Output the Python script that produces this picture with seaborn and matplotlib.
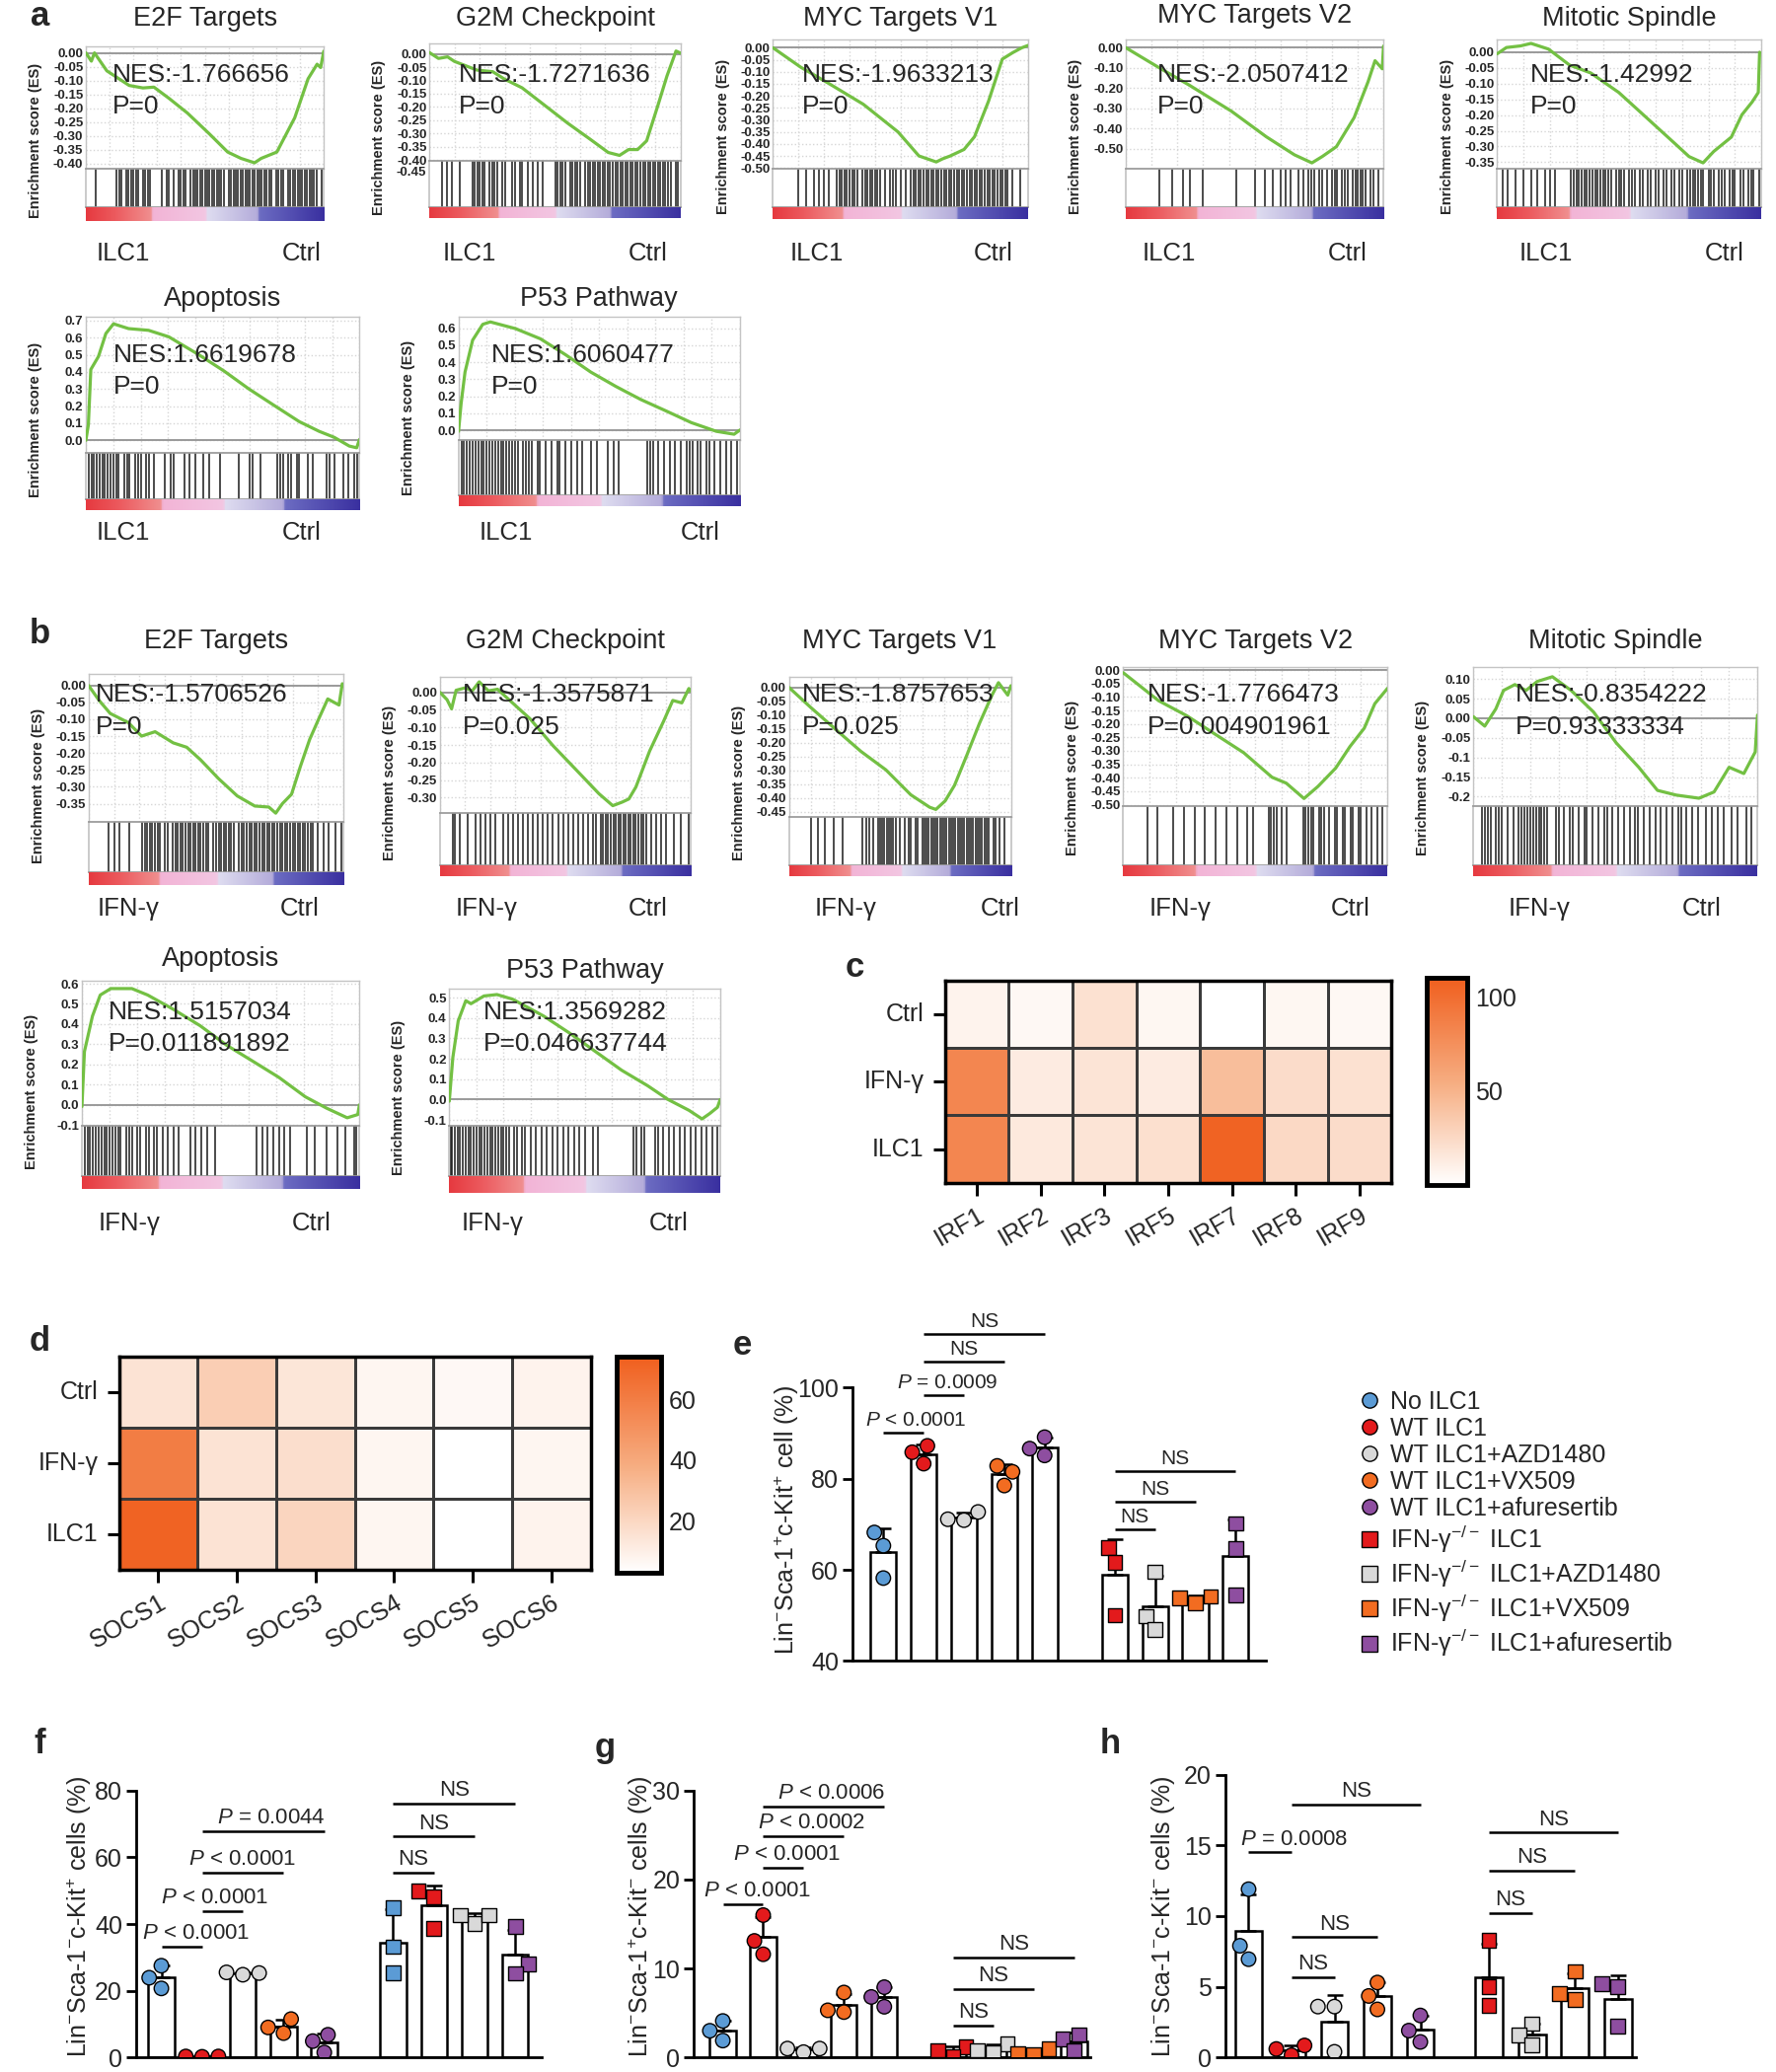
import numpy as np
import pandas as pd
import matplotlib
matplotlib.use("Agg")
import matplotlib.pyplot as plt
import seaborn as sns
from matplotlib.colors import LinearSegmentedColormap
from matplotlib.lines import Line2D
from matplotlib import font_manager

# ============================ DATA ============================
gsea_titles = ["E2F Targets", "G2M Checkpoint", "MYC Targets V1", "MYC Targets V2",
               "Mitotic Spindle", "Apoptosis", "P53 Pathway"]

a_nes = ["NES:-1.766656", "NES:-1.7271636", "NES:-1.9633213", "NES:-2.0507412",
         "NES:-1.42992", "NES:1.6619678", "NES:1.6060477"]
a_pval = ["P=0", "P=0", "P=0", "P=0", "P=0", "P=0", "P=0"]
b_nes = ["NES:-1.5706526", "NES:-1.3575871", "NES:-1.8757653", "NES:-1.7766473",
         "NES:-0.8354222", "NES:1.5157034", "NES:1.3569282"]
b_pval = ["P=0", "P=0.025", "P=0.025", "P=0.004901961", "P=0.93333334",
          "P=0.011891892", "P=0.046637744"]
a_groups = ["ILC1", "Ctrl"]
b_groups = ["IFN-γ", "Ctrl"]

# running enrichment score curves (rank position in %, ES)
a_e2f_x = [0, 2.3, 3.6, 8.8, 18.2, 24, 28.6, 35, 42.7, 52, 59.6, 65.2, 70.9, 73.7, 80.3, 82.1, 87.8, 93.4, 97.2, 98.7, 100]
a_e2f_es = [0, -0.03, 0.0, -0.065, -0.118, -0.127, -0.124, -0.165, -0.218, -0.294, -0.359, -0.382, -0.398, -0.382,
            -0.359, -0.329, -0.235, -0.094, -0.041, -0.053, 0.006]
a_g2m_x = [0, 3.6, 7.2, 9.9, 18.9, 25.2, 29.7, 36.9, 45.9, 55, 64, 71.2, 75.7, 79.3, 82.9, 86.5, 91, 94.6, 98.2, 100]
a_g2m_es = [0.005, -0.017, -0.011, -0.028, -0.061, -0.067, -0.094, -0.128, -0.194, -0.261, -0.322, -0.372, -0.383,
            -0.361, -0.361, -0.328, -0.194, -0.083, 0.011, 0.003]
a_myc1_x = [0, 10.9, 21.8, 35.4, 49, 57.2, 64, 66.5, 69.5, 74.9, 79, 84.5, 89.9, 94, 97.5, 100]
a_myc1_es = [0, -0.081, -0.148, -0.235, -0.35, -0.45, -0.475, -0.462, -0.45, -0.423, -0.37, -0.222, -0.047, -0.02,
             0.0, 0.01]
a_myc2_x = [0, 13.6, 24.5, 40.9, 54.5, 65.4, 72.2, 76.3, 81.7, 88.6, 94, 96.7, 99.5, 100]
a_myc2_es = [0, -0.104, -0.184, -0.313, -0.44, -0.529, -0.569, -0.537, -0.489, -0.345, -0.168, -0.064, -0.104, 0.008]
a_mito_x = [0, 3.5, 8.8, 12.8, 19.4, 27.4, 35.4, 46, 56.6, 67.3, 72.6, 77.9, 81.9, 88.6, 92.6, 96.5, 98.8, 99.3]
a_mito_es = [-0.005, 0.015, 0.02, 0.028, 0.01, -0.041, -0.066, -0.128, -0.209, -0.291, -0.332, -0.352, -0.316,
             -0.27, -0.199, -0.158, -0.128, 0.0]
a_apo_x = [0, 0.9, 1.8, 4.6, 7.3, 10.1, 15.6, 22.9, 30.3, 41.3, 50.5, 59.6, 68.8, 78, 85.3, 90.8, 96.3, 99, 100]
a_apo_es = [0, 0.09, 0.414, 0.49, 0.624, 0.681, 0.653, 0.643, 0.605, 0.5, 0.405, 0.3, 0.204, 0.109, 0.052, 0.017,
            -0.034, -0.044, 0.004]
a_p53_x = [0, 0.9, 2.3, 5, 8.6, 11.3, 20.2, 29.1, 38, 47, 55.9, 64.8, 73.8, 82.7, 91.6, 97.9, 100]
a_p53_es = [-0.005, 0.156, 0.342, 0.529, 0.622, 0.636, 0.597, 0.537, 0.444, 0.342, 0.258, 0.181, 0.114, 0.046,
            -0.005, -0.022, 0.003]

b_e2f_x = [0, 4.1, 8.5, 15.6, 20.8, 26.1, 33.2, 38.5, 43.9, 51, 58.3, 65.2, 70.7, 73.4, 76, 79.6, 83.1, 86.7, 90.2,
           93.8, 98.2, 99.5, 100]
b_e2f_es = [0, -0.044, -0.083, -0.11, -0.15, -0.137, -0.17, -0.183, -0.22, -0.276, -0.327, -0.357, -0.36, -0.378,
            -0.35, -0.322, -0.239, -0.16, -0.1, -0.04, -0.058, 0.005, 0.0]
b_g2m_x = [0, 2.8, 4.6, 6.4, 10.1, 12.8, 15.6, 19.3, 22.9, 28.4, 35.8, 45, 54.1, 63.3, 68.8, 72.5, 75.2, 78, 83.5,
           89, 92.7, 96.3, 99.1, 100]
b_g2m_es = [0, -0.021, -0.047, 0.006, 0.013, 0.004, 0.03, 0.004, 0.009, -0.027, -0.075, -0.152, -0.22, -0.289,
            -0.323, -0.313, -0.304, -0.27, -0.167, -0.083, -0.023, -0.03, 0.011, 0.003]
b_myc1_x = [0, 9.9, 21.1, 32.4, 43.7, 54.9, 63.4, 66.2, 70.4, 74.6, 80.3, 85.9, 91.5, 94.4, 98.6, 100]
b_myc1_es = [0, -0.073, -0.152, -0.231, -0.298, -0.388, -0.433, -0.441, -0.41, -0.354, -0.242, -0.129, -0.028,
             0.017, -0.028, 0.006]
b_myc2_x = [0, 13.4, 24.1, 34.9, 45.6, 56.3, 61.7, 68.4, 73.7, 80.4, 85.8, 91.2, 95.2, 100]
b_myc2_es = [-0.01, -0.114, -0.17, -0.239, -0.307, -0.398, -0.42, -0.477, -0.432, -0.364, -0.284, -0.216, -0.125,
             -0.068]
b_mito_x = [0, 4, 7.9, 10.6, 14.6, 18.5, 22.5, 27.8, 34.4, 42.3, 50.3, 58.2, 64.8, 71.4, 79.4, 84.7, 90, 95.2, 99.2,
            100]
b_mito_es = [0.004, -0.02, 0.024, 0.071, 0.086, 0.071, 0.094, 0.106, 0.071, 0.016, -0.063, -0.125, -0.184, -0.196,
             -0.204, -0.188, -0.125, -0.141, -0.086, 0.008]
b_apo_x = [0, 0.9, 3.8, 6.6, 10.4, 18, 23.7, 33.1, 42.6, 52.1, 61.6, 71, 80.5, 88.1, 95.6, 99.4, 100]
b_apo_es = [-0.008, 0.264, 0.44, 0.544, 0.576, 0.576, 0.544, 0.472, 0.392, 0.296, 0.216, 0.136, 0.04, -0.016,
            -0.064, -0.048, 0.0]
b_p53_x = [0, 1.3, 3.3, 6.1, 8, 12.8, 17.6, 23.4, 34.9, 44.4, 54, 63.6, 73.2, 80.8, 88.5, 93.3, 96.2, 99, 100]
b_p53_es = [-0.008, 0.205, 0.386, 0.485, 0.47, 0.508, 0.515, 0.492, 0.409, 0.326, 0.235, 0.144, 0.068, 0.0, -0.053,
            -0.095, -0.068, -0.038, 0.0]

# gene-set hit positions (rank position in %)
a_e2f_hits = [4, 13, 14, 15, 17, 18, 19, 20, 21, 22, 24, 25, 26, 27, 32, 34, 35, 37, 39, 40, 41, 42, 44, 45, 46, 47,
              48, 49, 50, 51, 52, 53, 54, 55, 56, 57, 58, 60, 61, 62, 63, 64, 65, 66, 67, 68, 69, 70, 71, 72, 73,
              74, 75, 76, 77, 78, 80, 81, 82, 83, 85, 86, 87, 88, 89, 90, 91, 92, 93, 94, 95, 96, 97, 99]
a_g2m_hits = [5, 7, 9, 12, 17, 18, 19, 20, 21, 22, 24, 25, 26, 27, 29, 30, 33, 34, 36, 37, 39, 41, 43, 45, 50, 51,
              52, 53, 54, 56, 57, 58, 59, 60, 62, 63, 64, 65, 66, 67, 68, 69, 70, 71, 72, 73, 74, 75, 76, 77, 78,
              79, 80, 81, 82, 83, 84, 85, 86, 87, 88, 89, 90, 91, 92, 93, 94, 95, 96, 98, 99]
a_myc1_hits = [10, 13, 16, 18, 20, 22, 25, 26, 27, 28, 29, 30, 31, 32, 33, 35, 36, 37, 38, 39, 40, 41, 42, 44, 46,
               47, 48, 50, 52, 54, 55, 56, 57, 58, 59, 60, 61, 62, 63, 64, 65, 66, 67, 68, 69, 70, 71, 72, 73, 74,
               75, 76, 77, 78, 79, 80, 81, 82, 83, 84, 85, 86, 87, 88, 89, 90, 91, 92, 94, 97]
a_myc2_hits = [13, 18, 22, 25, 30, 43, 50, 54, 57, 60, 62, 64, 67, 69, 71, 72, 73, 75, 76, 78, 80, 81, 82, 84, 85,
               86, 88, 89, 90, 91, 92, 93, 95, 96, 98]
a_mito_hits = [2, 4, 7, 10, 13, 15, 18, 20, 22, 28, 29, 30, 31, 32, 33, 34, 35, 36, 37, 38, 39, 40, 41, 42, 43, 45,
               46, 47, 48, 50, 51, 52, 54, 55, 57, 58, 60, 61, 63, 64, 66, 67, 69, 70, 72, 73, 74, 75, 76, 77, 78,
               80, 81, 82, 84, 85, 86, 88, 89, 90, 92, 93, 95, 96, 97, 99]
a_apo_hits = [1, 2, 3, 4, 5, 6, 7, 8, 9, 10, 11, 12, 14, 15, 16, 18, 19, 20, 22, 23, 25, 29, 31, 32, 36, 38, 40, 43,
              45, 49, 56, 60, 61, 64, 70, 71, 72, 74, 75, 77, 78, 81, 83, 88, 89, 91, 94, 96, 98, 99]
a_p53_hits = [1, 2, 3, 4, 5, 6, 7, 8, 9, 10, 11, 12, 13, 14, 15, 16, 17, 18, 19, 20, 21, 23, 24, 25, 26, 28, 29, 31,
              33, 35, 36, 38, 40, 42, 44, 47, 49, 53, 55, 57, 67, 68, 69, 71, 73, 75, 77, 79, 81, 82, 83, 85, 86,
              88, 89, 91, 93, 95, 97, 99]
b_e2f_hits = [8, 10, 12, 16, 21, 22, 23, 24, 25, 26, 27, 28, 30, 31, 33, 34, 35, 36, 37, 38, 39, 40, 41, 42, 43, 44,
              45, 46, 47, 49, 50, 51, 52, 53, 54, 55, 56, 57, 59, 60, 61, 62, 63, 64, 65, 66, 67, 68, 69, 70, 71,
              72, 73, 74, 75, 76, 77, 78, 79, 80, 81, 82, 83, 84, 85, 86, 87, 88, 90, 92, 94, 97, 99]
b_g2m_hits = [5, 6, 8, 11, 14, 16, 18, 20, 22, 25, 27, 29, 31, 33, 35, 37, 39, 41, 43, 45, 47, 49, 51, 53, 55, 57,
              59, 61, 62, 64, 65, 66, 67, 68, 69, 70, 71, 72, 73, 74, 75, 76, 77, 78, 79, 80, 81, 82, 84, 86, 88,
              90, 93, 96, 99]
b_myc1_hits = [10, 13, 16, 20, 24, 33, 35, 36, 38, 40, 41, 42, 43, 44, 45, 46, 47, 48, 50, 52, 54, 55, 57, 58, 60,
               61, 62, 63, 64, 65, 66, 67, 68, 69, 70, 71, 72, 73, 74, 75, 76, 77, 78, 79, 80, 81, 82, 83, 84, 85,
               86, 87, 88, 89, 90, 92, 93, 95, 97]
b_myc2_hits = [9, 13, 19, 23, 27, 31, 35, 39, 43, 47, 49, 55, 56, 57, 58, 60, 62, 68, 69, 70, 71, 72, 74, 75, 76,
               78, 80, 81, 83, 84, 86, 87, 89, 90, 92, 94, 96, 98]
b_mito_hits = [3, 4, 5, 6, 8, 9, 10, 12, 14, 16, 17, 18, 19, 20, 21, 22, 23, 24, 25, 26, 29, 30, 32, 34, 35, 37,
               39, 40, 42, 44, 46, 47, 49, 51, 53, 55, 57, 58, 60, 62, 64, 66, 68, 70, 72, 73, 75, 77, 79, 82, 84,
               86, 88, 91, 93, 96, 98]
b_apo_hits = [1, 2, 3, 4, 5, 6, 7, 8, 9, 10, 11, 12, 13, 14, 16, 17, 18, 20, 21, 23, 24, 26, 27, 29, 31, 33, 35,
              39, 41, 43, 45, 48, 63, 65, 67, 69, 71, 73, 75, 81, 84, 88, 92, 95, 98, 99]
b_p53_hits = [0.5, 1, 2, 3, 4, 5, 6, 7, 8, 9, 10, 11, 12, 13, 14, 15, 16, 17, 18, 19, 20, 21, 22, 24, 25, 27, 28,
              30, 32, 34, 36, 38, 40, 42, 44, 46, 48, 50, 53, 55, 68, 69, 71, 72, 76, 77, 79, 81, 83, 85, 87, 89,
              91, 93, 95, 97, 99]

# heatmaps
c_rows = ["Ctrl", "IFN-γ", "ILC1"]
c_cols = ["IRF1", "IRF2", "IRF3", "IRF5", "IRF7", "IRF8", "IRF9"]
c_ctrl = [8, 5, 20, 6, 0, 6, 5]
c_ifng = [82, 13, 18, 13, 43, 23, 20]
c_ilc1 = [82, 15, 18, 21, 107, 25, 23]
c_ticks = [50, 100]

d_rows = ["Ctrl", "IFN-γ", "ILC1"]
d_cols = ["SOCS1", "SOCS2", "SOCS3", "SOCS4", "SOCS5", "SOCS6"]
d_ctrl = [15, 24, 14, 7, 6, 8]
d_ifng = [60, 15, 17, 7, 3, 7]
d_ilc1 = [72, 15, 21, 7, 3, 8]
d_ticks = [20, 40, 60]

# bar charts: 3 replicates per group
legend_labels = ["No ILC1", "WT ILC1", "WT ILC1+AZD1480", "WT ILC1+VX509", "WT ILC1+afuresertib",
                 "IFN-γ$^{-/-}$ ILC1", "IFN-γ$^{-/-}$ ILC1+AZD1480", "IFN-γ$^{-/-}$ ILC1+VX509",
                 "IFN-γ$^{-/-}$ ILC1+afuresertib"]
e_vals = [[68.2, 65.3, 58.2], [87.2, 85.8, 83.3], [72.7, 71.1, 70.9], [82.8, 81.5, 78.5], [89.1, 86.6, 85.1],
          [64.9, 61.7, 50.1], [59.6, 49.8, 46.9], [52.8, 53.8, 54.2], [70.2, 64.7, 54.5]]
f_vals = [[27.5, 23.9, 20.7], [0.3, 0.2, 0.3], [24.8, 25.5, 25.3], [11.5, 9.0, 7.3], [6.8, 4.9, 1.5],
          [44.9, 33.2, 25.4], [49.9, 48.2, 38.7], [40.2, 42.6, 42.6], [39.2, 28.1, 25.2]]
g_vals = [[4.1, 3.0, 1.9], [16.0, 13.1, 11.6], [0.6, 1.0, 1.0], [7.3, 5.3, 5.1], [7.9, 6.8, 5.7],
          [1.2, 0.8, 0.1], [1.5, 0.8, 0.6], [1.0, 0.4, 0.3], [2.6, 2.1, 0.8]]
h_vals = [[11.9, 7.9, 6.95], [0.85, 0.6, 0.16], [3.6, 3.6, 0.4], [5.3, 4.35, 3.4], [2.97, 1.9, 1.1],
          [8.3, 5.0, 3.7], [2.4, 1.6, 0.9], [6.1, 4.5, 4.1], [5.2, 5.0, 2.2]]

# significance brackets: (bar i, bar j, height, label)
e_brackets = [(0, 1, 90.1, "$P$ < 0.0001"), (1, 2, 98.4, "$P$ = 0.0009"), (1, 3, 105.7, "NS"),
              (1, 4, 111.7, "NS"), (5, 6, 68.9, "NS"), (5, 7, 75.0, "NS"), (5, 8, 81.6, "NS")]
f_brackets = [(0, 1, 33.2, "$P$ < 0.0001"), (1, 2, 43.9, "$P$ < 0.0001"), (1, 3, 55.3, "$P$ < 0.0001"),
              (1, 4, 67.8, "$P$ = 0.0044"), (5, 6, 55.5, "NS"), (5, 7, 66.2, "NS"), (5, 8, 76.0, "NS")]
g_brackets = [(0, 1, 17.2, "$P$ < 0.0001"), (1, 2, 21.3, "$P$ < 0.0001"), (1, 3, 24.9, "$P$ < 0.0002"),
              (1, 4, 28.2, "$P$ < 0.0006"), (5, 6, 3.6, "NS"), (5, 7, 7.7, "NS"), (5, 8, 11.2, "NS")]
h_brackets = [(0, 1, 14.5, "$P$ = 0.0008"), (1, 2, 5.7, "NS"), (1, 3, 8.5, "NS"), (1, 4, 17.9, "NS"),
              (5, 6, 10.2, "NS"), (5, 7, 13.2, "NS"), (5, 8, 15.9, "NS")]

# ============================ STYLE ============================
sns.set_theme(style="white")
plt.rcParams["font.family"] = ["Liberation Sans", "DejaVu Sans"]
plt.rcParams["mathtext.fontset"] = "custom"
plt.rcParams["mathtext.rm"] = "Liberation Sans"
plt.rcParams["mathtext.it"] = "Liberation Sans:italic"
plt.rcParams["mathtext.bf"] = "Liberation Sans:bold"

_names = {f.name for f in font_manager.fontManager.ttflist}
HAS_NARROW = "Liberation Sans Narrow" in _names
NARROW = ["Liberation Sans Narrow", "DejaVu Sans"] if HAS_NARROW else ["Liberation Sans", "DejaVu Sans"]
K = 1.18 if HAS_NARROW else 1.0

BLUE, RED, GREY, ORANGE, PURPLE = "#5b9bd5", "#e31a1c", "#d9d9d9", "#f26c21", "#8e4ea0"
GREEN = "#73c043"

W, H = 1344.0, 1568.0


def R(l, t, r, b):
    return [l / W, 1 - b / H, (r - l) / W, (b - t) / H]


def FX(x):
    return x / W


def FY(y):
    return 1 - y / H


fig = plt.figure(figsize=(18, 21), dpi=100)

rank_cmap = LinearSegmentedColormap.from_list("rank", [
    (0.0, "#e63a40"), (0.12, "#ec5a5e"), (0.27, "#f08e8e"), (0.28, "#f2b4d6"), (0.5, "#f3c6e2"),
    (0.51, "#dedcf0"), (0.72, "#b4acda"), (0.73, "#6c6cc2"), (1.0, "#3a30a0")])

# ============================ GSEA ============================
a_curves = [(a_e2f_x, a_e2f_es), (a_g2m_x, a_g2m_es), (a_myc1_x, a_myc1_es), (a_myc2_x, a_myc2_es),
            (a_mito_x, a_mito_es), (a_apo_x, a_apo_es), (a_p53_x, a_p53_es)]
b_curves = [(b_e2f_x, b_e2f_es), (b_g2m_x, b_g2m_es), (b_myc1_x, b_myc1_es), (b_myc2_x, b_myc2_es),
            (b_mito_x, b_mito_es), (b_apo_x, b_apo_es), (b_p53_x, b_p53_es)]
a_hits = [a_e2f_hits, a_g2m_hits, a_myc1_hits, a_myc2_hits, a_mito_hits, a_apo_hits, a_p53_hits]
b_hits = [b_e2f_hits, b_g2m_hits, b_myc1_hits, b_myc2_hits, b_mito_hits, b_apo_hits, b_p53_hits]

# layout (display units): l, r, top, es-bottom, hits-bottom, bar-bottom, title y
a_layout = [(65, 245, 35, 128, 157, 167, 14), (325, 515, 33, 122, 157, 165, 14),
            (585, 778, 30, 128, 157, 166, 14), (852, 1047, 30, 128, 157, 166, 12),
            (1133, 1333, 30, 128, 157, 166, 14), (65, 272, 240, 343, 378, 386, 226),
            (347, 560, 240, 333, 375, 383, 226)]
b_layout = [(67, 260, 510, 622, 660, 670, 485), (333, 523, 512, 615, 655, 663, 485),
            (597, 765, 512, 618, 655, 663, 485), (850, 1050, 505, 610, 655, 663, 485),
            (1115, 1330, 505, 610, 655, 663, 485), (62, 272, 742, 852, 890, 900, 726),
            (340, 545, 748, 852, 890, 903, 735)]
a_nes_pos = [(20, 57), (22, 57), (22, 57), (24, 57), (25, 57), (21, 269), (25, 269)]
b_nes_pos = [(5, 526), (17, 526), (10, 526), (18, 526), (32, 526), (20, 766), (26, 766)]
a_lab_pos = [(93, 228, 192), (355, 490, 192), (618, 752, 192), (885, 1020, 192), (1170, 1305, 192),
             (93, 228, 403), (383, 530, 403)]
b_lab_pos = [(97, 227, 688), (368, 490, 688), (640, 757, 688), (893, 1022, 688), (1165, 1288, 688),
             (98, 236, 926), (373, 506, 926)]


def neg_ticks(lo, step, fmt):
    vals = np.round(np.arange(0, lo - 1e-9, -step), 3)
    return list(vals), [fmt % v if v != 0 else fmt % 0 for v in vals]


t1 = neg_ticks(-0.40, 0.05, "%.2f")
a_axes = [
    ((-0.421, 0.024), t1, []),
    ((-0.405, 0.039), t1, [-0.45]),
    ((-0.505, 0.034), neg_ticks(-0.50, 0.05, "%.2f"), []),
    ((-0.6, 0.04), neg_ticks(-0.50, 0.10, "%.2f"), []),
    ((-0.372, 0.04), neg_ticks(-0.35, 0.05, "%.2f"), []),
    ((-0.076, 0.72), (list(np.round(np.arange(0, 0.71, 0.1), 2)), ["%.1f" % v for v in np.arange(0, 0.71, 0.1)]), []),
    ((-0.056, 0.664), (list(np.round(np.arange(0, 0.61, 0.1), 2)), ["%.1f" % v for v in np.arange(0, 0.61, 0.1)]), []),
]
b_axes = [
    ((-0.404, 0.034), neg_ticks(-0.35, 0.05, "%.2f"), []),
    ((-0.343, 0.045), neg_ticks(-0.30, 0.05, "%.2f"), []),
    ((-0.467, 0.039), neg_ticks(-0.45, 0.05, "%.2f"), []),
    ((-0.505, 0.01), neg_ticks(-0.50, 0.05, "%.2f"), []),
    ((-0.224, 0.13), ([0.10, 0.05, 0.0, -0.05, -0.1, -0.15, -0.2],
                      ["0.10", "0.05", "0.00", "-0.05", "-0.1", "-0.15", "-0.2"]), []),
    ((-0.104, 0.616), (list(np.round(np.arange(-0.1, 0.61, 0.1), 2)),
                       ["%.1f" % v for v in np.arange(-0.1, 0.61, 0.1)]), []),
    ((-0.129, 0.545), (list(np.round(np.arange(-0.1, 0.51, 0.1), 2)),
                       ["%.1f" % v for v in np.arange(-0.1, 0.51, 0.1)]), []),
]


def draw_gsea(lay, curve, hits, axcfg, title, nes, pv, npos, labs, lpos):
    l, r, t, esb, hb, cb, ty = lay
    ylim, (yt, ytl), extra = axcfg
    ax = fig.add_axes(R(l, t, r, esb))
    sns.lineplot(x=curve[0], y=curve[1], ax=ax, color=GREEN, linewidth=2.3, sort=False, estimator=None, zorder=3)
    ax.axhline(0, color="#9a9a9a", lw=1.4, zorder=2)
    ax.set_xlim(0, 100)
    ax.set_ylim(*ylim)
    ax.set_xticks(np.arange(0, 101, 10))
    ax.set_xticklabels([])
    ax.set_yticks(yt)
    ax.set_yticklabels(ytl, fontsize=9.5, fontweight="bold", family=NARROW)
    ax.tick_params(length=0, pad=2)
    ax.grid(True, color="#d6d6d6", ls=":", lw=1.0)
    ax.set_xlabel("")
    ax.set_ylabel("")
    for sp in ax.spines.values():
        sp.set_color("#c4c4c4")
        sp.set_linewidth(1.0)
    for ev in extra:
        ax.text(-0.012, ev, "%.2f" % ev, transform=ax.get_yaxis_transform(), ha="right", va="center",
                fontsize=9.5, fontweight="bold", family=NARROW, clip_on=False)
    axh = fig.add_axes(R(l, esb, r, hb))
    axh.vlines(hits, 0, 1, colors="#1a1a1a", lw=1.1)
    axh.set_xlim(0, 100)
    axh.set_ylim(0, 1)
    axh.set_xticks([])
    axh.set_yticks([])
    for sp in axh.spines.values():
        sp.set_color("#c4c4c4")
    axh.spines["bottom"].set_color("#9a9a9a")
    axh.spines["top"].set_color("#9a9a9a")
    axc = fig.add_axes(R(l, hb, r, cb))
    axc.imshow(np.linspace(0, 1, 400)[None, :], aspect="auto", cmap=rank_cmap, extent=(0, 100, 0, 1))
    axc.axis("off")
    cx = (l + r) / 2
    fig.text(FX(cx), FY(ty), title, ha="center", va="center", fontsize=19.5 * K, family=NARROW)
    fig.text(FX(l + npos[0]), FY(npos[1]), nes, ha="left", va="center", fontsize=19 * K, family=NARROW)
    fig.text(FX(l + npos[0]), FY(npos[1] + 24), pv, ha="left", va="center", fontsize=19 * K, family=NARROW)
    fig.text(FX(l - 38), FY((t + cb) / 2 + 5), "Enrichment score (ES)", rotation=90, ha="center", va="center",
             fontsize=10.5, fontweight="bold")
    fig.text(FX(lpos[0]), FY(lpos[2]), labs[0], ha="center", va="center", fontsize=18.5 * K, family=NARROW)
    fig.text(FX(lpos[1]), FY(lpos[2]), labs[1], ha="center", va="center", fontsize=18.5 * K, family=NARROW)


for i in range(7):
    draw_gsea(a_layout[i], a_curves[i], a_hits[i], a_axes[i], gsea_titles[i], a_nes[i], a_pval[i],
              a_nes_pos[i], a_groups, a_lab_pos[i])
    draw_gsea(b_layout[i], b_curves[i], b_hits[i], b_axes[i], gsea_titles[i], b_nes[i], b_pval[i],
              b_nes_pos[i], b_groups, b_lab_pos[i])

# ============================ HEATMAPS ============================
heat_cmap = LinearSegmentedColormap.from_list("or", ["#ffffff", "#f6ac80", "#f05f1e"])


def draw_heat(rect, crect, df, vmin, vmax, ticks):
    ax = fig.add_axes(rect)
    cax = fig.add_axes(crect)
    sns.heatmap(df, ax=ax, cbar_ax=cax, cmap=heat_cmap, vmin=vmin, vmax=vmax, linewidths=1.0,
                linecolor="#3a3a3a")
    for sp in ax.spines.values():
        sp.set_visible(True)
        sp.set_linewidth(2.5)
        sp.set_color("black")
    ax.tick_params(axis="both", left=True, bottom=True, length=9, width=2.2, direction="out", color="black",
                   labelsize=18, pad=6)
    ax.set_yticklabels(df.index, rotation=0)
    ax.set_xticklabels(df.columns, rotation=30, ha="right", rotation_mode="anchor")
    ax.set_xlabel("")
    ax.set_ylabel("")
    cbar = ax.collections[0].colorbar
    cbar.outline.set_linewidth(3.5)
    cbar.outline.set_edgecolor("black")
    cbar.set_ticks(ticks)
    cax.tick_params(axis="y", direction="in", left=True, right=True, length=10, width=3.5, labelsize=18,
                    color="black", pad=6)


c_df = pd.DataFrame([c_ctrl, c_ifng, c_ilc1], index=c_rows, columns=c_cols)
d_df = pd.DataFrame([d_ctrl, d_ifng, d_ilc1], index=d_rows, columns=d_cols)
draw_heat(R(715, 742, 1053, 895), R(1080, 740, 1110, 897), c_df, 0, 110, c_ticks)
draw_heat(R(90, 1027, 447, 1188), R(467, 1027, 500, 1190), d_df, 3, 74, d_ticks)

# ============================ BAR CHARTS ============================


def draw_bars(rect, vals, colors, gap, xpad, ylim, yticks, brackets, txt_dx, ylabel, ylab_xy, pfs):
    pos = np.array([0, 1, 2, 3, 4, 4 + gap, 5 + gap, 6 + gap, 7 + gap])
    means = np.array([np.mean(v) for v in vals])
    sds = np.array([np.std(v, ddof=1) for v in vals])
    ax = fig.add_axes(rect)
    sns.barplot(x=pos, y=means, native_scale=True, width=0.64, color="white", edgecolor="black",
                linewidth=1.8, errorbar=None, ax=ax, zorder=1)
    ax.errorbar(pos, means, yerr=[np.zeros_like(sds), sds], fmt="none", ecolor="black", elinewidth=1.8,
                capsize=6, capthick=1.8, zorder=2)
    df = pd.DataFrame({"pos": np.repeat(pos, 3), "val": np.concatenate(vals), "col": np.repeat(colors, 3)})
    pal = {c: c for c in colors}
    for sel, mk in [(df["pos"] < 4.5, "o"), (df["pos"] > 4.5, "s")]:
        sns.swarmplot(data=df[sel], x="pos", y="val", hue="col", palette=pal, marker=mk, size=10.5,
                      edgecolor="black", linewidth=1.0, native_scale=True, legend=False, ax=ax, zorder=4)
    for (i, j, y, lab), dx in zip(brackets, txt_dx):
        ax.plot([pos[i], pos[j]], [y, y], color="black", lw=1.8, clip_on=False, solid_capstyle="butt")
        ax.annotate(lab, xy=((pos[i] + pos[j]) / 2 + dx, y), xytext=(0, 2), textcoords="offset points",
                    ha="center", va="bottom", fontsize=pfs, annotation_clip=False)
    ax.set_xlim(-xpad[0], pos[-1] + xpad[1])
    ax.set_ylim(*ylim)
    ax.set_yticks(yticks)
    ax.set_xticks([])
    ax.set_xlabel("")
    ax.set_ylabel("")
    sns.despine(ax=ax)
    ax.spines["left"].set_linewidth(2)
    ax.spines["bottom"].set_linewidth(2)
    ax.spines["left"].set_color("black")
    ax.spines["bottom"].set_color("black")
    ax.tick_params(axis="y", left=True, length=7, width=2, labelsize=18, direction="out", color="black", pad=3)
    fig.text(FX(ylab_xy[0]), FY(ylab_xy[1]), ylabel, rotation=90, ha="center", va="center", fontsize=18)
    return ax


e_cols = [BLUE, RED, GREY, ORANGE, PURPLE, RED, GREY, ORANGE, PURPLE]
f_cols = [BLUE, RED, GREY, ORANGE, PURPLE, BLUE, RED, GREY, PURPLE]
gh_cols = [BLUE, RED, GREY, ORANGE, PURPLE, RED, GREY, ORANGE, PURPLE]

# horizontal nudges of the bracket labels (x units)
e_txt_dx = [0.3, 0.1, 0, 0, 0, 0, 0]
f_txt_dx = [0.35, -0.2, 0, 0.2, 0, 0, 0]
g_txt_dx = [0.35, 0.1, 0.2, 0.2, 0, 0, 0]
h_txt_dx = [0.55, 0, 0, 0, 0, 0, 0]

draw_bars(R(645, 1050, 958, 1257), e_vals, e_cols, 1.74, (0.77, 0.75), (40, 100), [40, 60, 80, 100],
          e_brackets, e_txt_dx, "Lin$^{-}$Sca-1$^{+}$c-Kit$^{+}$ cell (%)", (595, 1150), 15)
draw_bars(R(103, 1355, 410, 1557), f_vals, f_cols, 1.69, (0.62, 0.65), (0, 80), [0, 20, 40, 60, 80],
          f_brackets, f_txt_dx, "Lin$^{-}$Sca-1$^{-}$c-Kit$^{+}$ cells (%)", (60, 1450), 16)
draw_bars(R(525, 1355, 825, 1557), g_vals, gh_cols, 1.70, (0.72, 0.4), (0, 30), [0, 10, 20, 30],
          g_brackets, g_txt_dx, "Lin$^{-}$Sca-1$^{+}$c-Kit$^{-}$ cells (%)", (485, 1450), 16)
draw_bars(R(927, 1343, 1238, 1557), h_vals, gh_cols, 1.60, (0.55, 0.42), (0, 20), [0, 5, 10, 15, 20],
          h_brackets, h_txt_dx, "Lin$^{-}$Sca-1$^{-}$c-Kit$^{-}$ cells (%)", (880, 1450), 16)

# legend for e
handles = [Line2D([], [], marker=("o" if k < 5 else "s"), ls="", markerfacecolor=c, markeredgecolor="black",
                  markeredgewidth=1.0, markersize=11) for k, c in enumerate(e_cols)]
fig.legend(handles, legend_labels, loc="upper left", bbox_to_anchor=(FX(1030), FY(1052)), frameon=False,
           fontsize=18, handlelength=0.7, handletextpad=0.5, labelspacing=0.12, borderpad=0,
           borderaxespad=0)

# panel letters
for lab, x, y in [("a", 30, 12), ("b", 30, 480), ("c", 647, 732), ("d", 30, 1015), ("e", 562, 1018),
                  ("f", 30, 1320), ("g", 458, 1323), ("h", 840, 1320)]:
    fig.text(FX(x), FY(y), lab, fontsize=25, fontweight="bold", ha="center", va="center")

fig.savefig("out.png", dpi=100)
